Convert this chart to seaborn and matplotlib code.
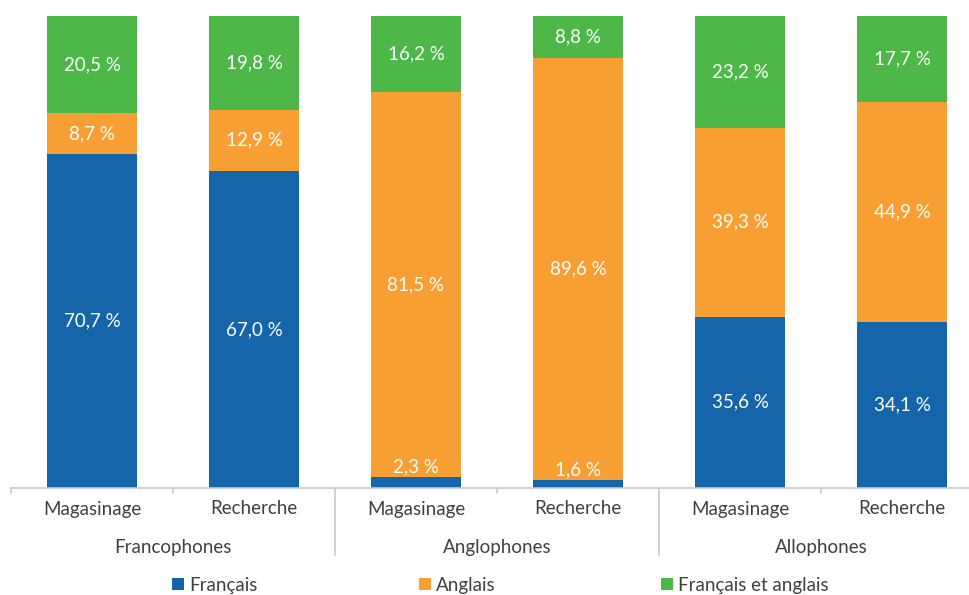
import numpy as np
import pandas as pd
import matplotlib
matplotlib.use("Agg")
import matplotlib.pyplot as plt
import matplotlib.transforms as mtransforms
from matplotlib.patches import Patch
import seaborn as sns

# Data: share of each language used, by activity and linguistic group (%)
groups = ["Francophones", "Anglophones", "Allophones"]
activities = ["Magasinage", "Recherche"]
francais = [70.7, 67.0, 2.3, 1.6, 35.6, 34.1]
anglais = [8.7, 12.9, 81.5, 89.6, 39.3, 44.9]
francais_et_anglais = [20.5, 19.8, 16.2, 8.8, 23.2, 17.7]
series_names = ["Français", "Anglais", "Français et anglais"]

colors = ["#1565AB", "#F79F33", "#4DB848"]
text_color = "#404040"
grid_color = "#C9C9C9"
fs = 13.5

sns.set_theme(style="white")
plt.rcParams["font.family"] = ["Lato", "DejaVu Sans"]

bars = [f"{g}|{a}" for g in groups for a in activities]
raw = np.array([francais, anglais, francais_et_anglais])
totals = raw.sum(axis=0)
shares = raw / totals * 100  # 100 % stacked
cum = np.cumsum(shares, axis=0)

fig = plt.figure(figsize=(9.7, 5.95), dpi=100)
ax = fig.add_axes([11 / 970, 107 / 595, 972 / 970, 472 / 595])

# Draw cumulative totals from the top series down so each segment shows
for i in reversed(range(3)):
    df = pd.DataFrame({"bar": bars, "value": cum[i]})
    sns.barplot(data=df, x="bar", y="value", color=colors[i], width=0.555,
                saturation=1, ax=ax, linewidth=0)

ax.set_xlim(-0.5, len(bars) - 0.5)
ax.set_ylim(0, 100)
ax.set_xlabel("")
ax.set_ylabel("")
ax.set_yticks([])
ax.set_xticks(range(len(bars)))
ax.set_xticklabels([])
ax.tick_params(axis="x", length=0)
for side in ["top", "right", "left"]:
    ax.spines[side].set_visible(False)
ax.spines["bottom"].set_color(grid_color)
ax.spines["bottom"].set_linewidth(1.2)

# Segment value labels
for j in range(len(bars)):
    base = 0
    for i in range(3):
        h = shares[i, j]
        y = base + h / 2
        if h < 5:
            y = base + h + 2.2
        ax.text(j, y, f"{raw[i, j]:.1f} %".replace(".", ","), ha="center",
                va="center", color="white", fontsize=fs)
        base += h

# Category axis: activity labels, group labels and separators
trans = mtransforms.blended_transform_factory(ax.transData, ax.transAxes)
px = 1 / 472
for j, b in enumerate(bars):
    ax.text(j, -21 * px, activities[j % 2], transform=trans, ha="center",
            va="center", fontsize=fs, color=text_color)
for g, name in enumerate(groups):
    ax.text(2 * g + 0.5, -59 * px, name, transform=trans, ha="center",
            va="center", fontsize=fs, color=text_color)
for xb in [-0.5, 0.5, 2.5, 4.5]:
    ax.plot([xb, xb], [0, -5 * px], transform=trans, color=grid_color,
            lw=1.2, clip_on=False)
for xb in [1.5, 3.5]:
    ax.plot([xb, xb], [0, -67 * px], transform=trans, color=grid_color,
            lw=1.2, clip_on=False)

# Legend entries along the bottom
legend_x = [172 / 970, 419 / 970, 661 / 970]
for name, c, lx in zip(series_names, colors, legend_x):
    fig.legend(handles=[Patch(facecolor=c, edgecolor="none", label=name)],
               loc="center left", bbox_to_anchor=(lx, 10 / 595), frameon=False,
               handlelength=0.65, handleheight=0.65, handletextpad=0.25,
               borderpad=0, borderaxespad=0, fontsize=fs,
               labelcolor=text_color)

fig.savefig("out.png", dpi=100)
